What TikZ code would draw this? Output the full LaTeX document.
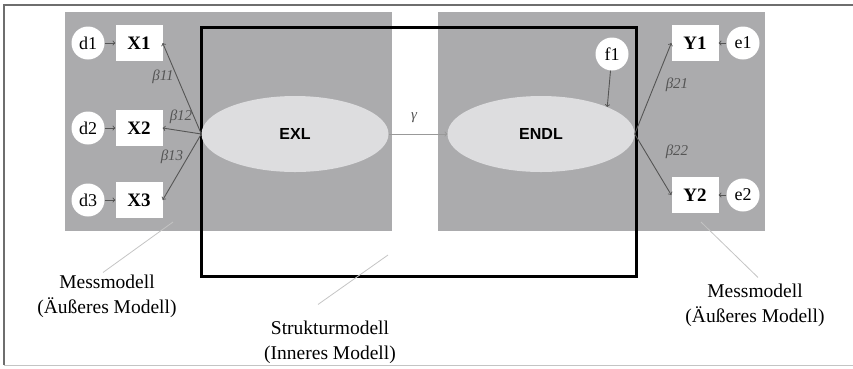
\documentclass[tikz,border=0pt]{standalone}
\usepackage{fontspec}
\setmainfont{Liberation Serif}
\setsansfont{Liberation Sans}
\usepackage{tikz}
\usetikzlibrary{shapes.geometric}
\definecolor{boxgrau}{RGB}{171,171,173}
\definecolor{ellipsengrau}{RGB}{221,221,223}
\definecolor{pfeilgrau}{RGB}{85,85,85}
\definecolor{zeigergrau}{RGB}{196,196,196}
\definecolor{rahmengrau}{RGB}{110,110,110}

\begin{document}
\begin{tikzpicture}[x=1pt,y=-1pt,
        indikator/.style={fill=white,minimum width=47pt,minimum height=36pt,inner sep=0pt,font=\bfseries\fontsize{19}{19}\selectfont},
        fehler/.style={circle,fill=white,minimum size=33pt,inner sep=0pt,font=\fontsize{18}{18}\selectfont},
        konstrukt/.style={ellipse,fill=ellipsengrau,minimum width=187pt,minimum height=76pt,inner sep=0pt,font=\sffamily\bfseries\fontsize{16}{16}\selectfont},
        pfeil/.style={->,draw=pfeilgrau,line width=0.9pt},
        koeff/.style={text=pfeilgrau,font=\itshape\fontsize{15}{15}\selectfont,inner sep=0pt},
        beschriftung/.style={align=center,font=\fontsize{19.5}{25}\selectfont,inner sep=2pt},
        zeiger/.style={draw=zeigergrau,line width=0.8pt}]
        \useasboundingbox (0,0) rectangle (853,368);
        \draw [rahmengrau,line width=1.2pt] (853,5) -- (4,5) -- (4,365);
        \draw [zeigergrau,line width=1pt] (4,365) -- (853,365);
        \fill [boxgrau] (65,12) rectangle (392,231);
        \fill [boxgrau] (438,12) rectangle (765,231);
        \draw [line width=3pt] (201,27) rectangle (636,276);

        \node [konstrukt] (EXL) at (295,134) {EXL};
        \node [konstrukt] (ENDL) at (541,134) {ENDL};

        \node [indikator] (X1) at (139,43) {X1};
        \node [indikator] (X2) at (139,128) {X2};
        \node [indikator] (X3) at (139,200) {X3};
        \node [fehler] (D1) at (88,43) {d1};
        \node [fehler] (D2) at (88,128) {d2};
        \node [fehler] (D3) at (88,200) {d3};

        \node [indikator] (Y1) at (695,43) {Y1};
        \node [indikator] (Y2) at (695,195) {Y2};
        \node [fehler] (E1) at (743,43) {e1};
        \node [fehler] (E2) at (743,195) {e2};
        \node [fehler] (F1) at (612,54) {f1};

        \draw [pfeil] (D1) -- (X1);
        \draw [pfeil] (D2) -- (X2);
        \draw [pfeil] (D3) -- (X3);
        \draw [pfeil] (E1) -- (Y1);
        \draw [pfeil] (E2) -- (Y2);
        \draw [pfeil] (EXL.west) -- (X1.east);
        \draw [pfeil] (EXL.west) -- (X2.east);
        \draw [pfeil] (EXL.west) -- (X3.east);
        \draw [pfeil] (ENDL.east) -- (Y1.west);
        \draw [pfeil] (ENDL.east) -- (Y2.west);
        \draw [pfeil,draw=pfeilgrau!60] (EXL) -- (ENDL);
        \draw [pfeil] (F1) -- (ENDL.north east);

        \node [koeff] (Beta11) at (163,77) {β11};
        \node [koeff] (Beta12) at (181,117) {β12};
        \node [koeff] (Beta13) at (172,157) {β13};
        \node [koeff] (Beta21) at (677,85) {β21};
        \node [koeff] (Beta22) at (677,152) {β22};
        \node [koeff] (Gamma) at (414,118) {γ};

        \node [beschriftung] (MessLinks) at (107,296) {Messmodell\\(Äußeres Modell)};
        \node [beschriftung] (Struktur) at (330,342) {Strukturmodell\\(Inneres Modell)};
        \node [beschriftung] (MessRechts) at (755,305) {Messmodell\\(Äußeres Modell)};
        \coordinate (MessLinksZiel) at (173,222);
        \coordinate (StrukturZiel) at (388,255);
        \coordinate (MessRechtsZiel) at (701,222);
        \draw [zeiger] ([xshift=-4pt]MessLinks.north) -- (MessLinksZiel);
        \draw [zeiger] ([xshift=-12pt,yshift=14pt]Struktur.north) -- (StrukturZiel);
        \draw [zeiger] ([xshift=3pt,yshift=4pt]MessRechts.north) -- (MessRechtsZiel);
    \end{tikzpicture}
\end{document}
